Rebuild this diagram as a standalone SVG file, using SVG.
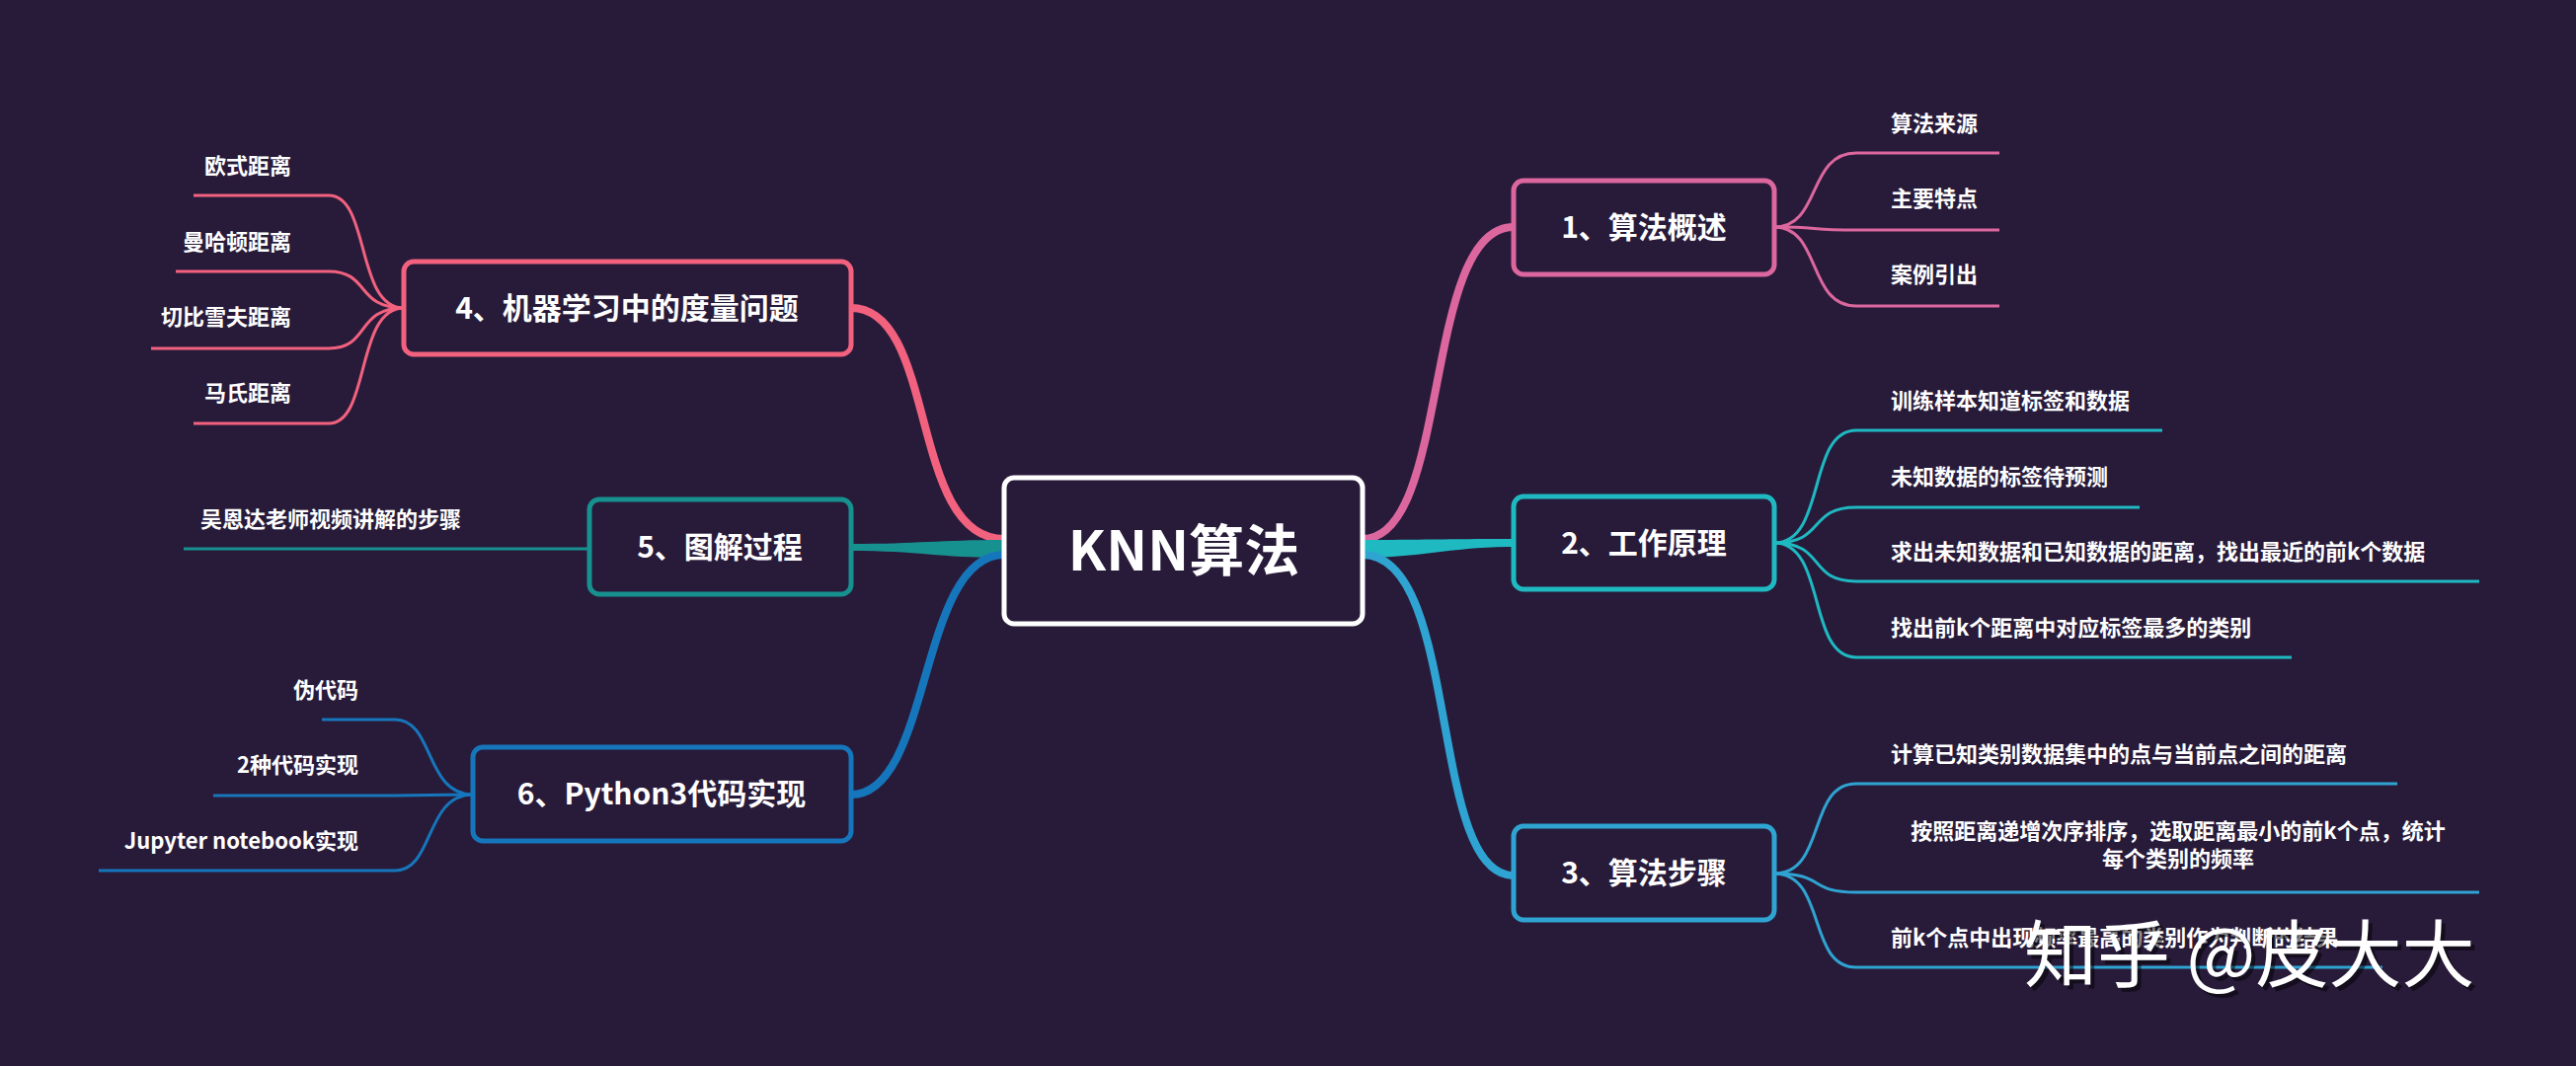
<svg xmlns="http://www.w3.org/2000/svg" width="2609" height="1080" viewBox="0 0 2609 1080">
<style>
.bg{fill:#281b3a}
.box{fill:#281b3a;stroke-width:5}
.nt{font-family:"Noto Sans CJK SC","Liberation Sans",sans-serif;font-weight:bold;font-size:30px;fill:#fff;text-anchor:middle}
.ct{font-family:"Noto Sans CJK SC","Liberation Sans",sans-serif;font-weight:bold;font-size:56px;fill:#fff;text-anchor:middle}
.lt{font-family:"Noto Sans CJK SC","Liberation Sans",sans-serif;font-weight:bold;font-size:22px;fill:#fff}
.r{text-anchor:end}
.m{text-anchor:middle}
.ln{fill:none;stroke-width:3}
.mn{fill:none;stroke-width:8;stroke-linecap:round}
.c1{stroke:#dc679e}.f1{fill:#dc679e}
.c2{stroke:#1fb9c2}.f2{fill:#1fb9c2}
.c3{stroke:#2fa4d2}.f3{fill:#2fa4d2}
.c4{stroke:#f2627f}.f4{fill:#f2627f}
.c5{stroke:#17918f}.f5{fill:#17918f}
.c6{stroke:#1676bc}.f6{fill:#1676bc}
.wm{font-family:"Noto Sans CJK SC",sans-serif;font-size:74px;fill:#fff}
</style>
<rect class="bg" x="0" y="0" width="2609" height="1080"/>
<g id="connectors">
<path class="mn c1" d="M1380,546 C1470,546 1440,230 1533,230"/>
<path class="f2" d="M1380,547 C1440,547 1470,546 1533,546 L1533,554 C1470,554 1440,565 1380,565 Z"/>
<path class="mn c3" d="M1380,562 C1480,562 1446,887 1533,887"/>
<path class="mn c4" d="M1017,546 C920,546 950,312 862,312"/>
<path class="f5" d="M1017,547 C950,547 930,551 862,551 L862,558 C930,558 950,565 1017,565 Z"/>
<path class="mn c6" d="M1017,562 C930,562 944,805 862,805"/>
<path class="ln c1" d="M1797,230 C1845,230 1830,155 1880,155 H2025"/>
<path class="ln c1" d="M1797,230 C1845,230 1830,233 1880,233 H2025"/>
<path class="ln c1" d="M1797,230 C1845,230 1830,310 1880,310 H2025"/>
<path class="ln c2" d="M1797,550 C1850,550 1830,436 1880,436 H2190"/>
<path class="ln c2" d="M1797,550 C1850,550 1830,514 1880,514 H2167"/>
<path class="ln c2" d="M1797,550 C1850,550 1830,589 1880,589 H2511"/>
<path class="ln c2" d="M1797,550 C1850,550 1830,666 1880,666 H2321"/>
<path class="ln c3" d="M1797,885 C1850,885 1830,794 1880,794 H2428"/>
<path class="ln c3" d="M1797,885 C1850,885 1830,904 1880,904 H2511"/>
<path class="ln c3" d="M1797,885 C1850,885 1830,980 1880,980 H2413"/>
<path class="ln c4" d="M409,312 C360,312 375,198 333,198 H196"/>
<path class="ln c4" d="M409,312 C360,312 375,275 333,275 H178"/>
<path class="ln c4" d="M409,312 C360,312 375,353 333,353 H153"/>
<path class="ln c4" d="M409,312 C360,312 375,429 333,429 H196"/>
<path class="ln c5" d="M597,556 H186"/>
<path class="ln c6" d="M479,805 C430,805 440,729 400,729 H326"/>
<path class="ln c6" d="M479,805 C430,805 440,806 400,806 H216"/>
<path class="ln c6" d="M479,805 C430,805 440,882 400,882 H100"/>
</g>
<g id="center"><rect class="box" x="1017" y="484" width="363" height="148" rx="10" stroke="#fff"/><text class="ct" x="1199" y="578">KNN算法</text></g>
<g id="n1"><rect class="box c1" x="1533" y="183" width="264" height="95" rx="10"/><text class="nt" x="1665" y="241">1、算法概述</text></g>
<g id="n2"><rect class="box c2" x="1533" y="503" width="264" height="94" rx="10"/><text class="nt" x="1665" y="561">2、工作原理</text></g>
<g id="n3"><rect class="box c3" x="1533" y="837" width="264" height="95" rx="10"/><text class="nt" x="1665" y="895">3、算法步骤</text></g>
<g id="n4"><rect class="box c4" x="409" y="265" width="453" height="94" rx="10"/><text class="nt" x="635" y="323">4、机器学习中的度量问题</text></g>
<g id="n5"><rect class="box c5" x="597" y="506" width="265" height="96" rx="10"/><text class="nt" x="729" y="565">5、图解过程</text></g>
<g id="n6"><rect class="box c6" x="479" y="757" width="383" height="95" rx="10"/><text class="nt" x="670" y="815">6、Python3代码实现</text></g>
<g id="leaves1"><text class="lt" x="1915" y="133">算法来源</text><text class="lt" x="1915" y="209">主要特点</text><text class="lt" x="1915" y="286">案例引出</text></g>
<g id="leaves2"><text class="lt" x="1915" y="414">训练样本知道标签和数据</text><text class="lt" x="1915" y="491">未知数据的标签待预测</text><text class="lt" x="1915" y="567">求出未知数据和已知数据的距离，找出最近的前k个数据</text><text class="lt" x="1915" y="644">找出前k个距离中对应标签最多的类别</text></g>
<g id="leaves3"><text class="lt" x="1915" y="772">计算已知类别数据集中的点与当前点之间的距离</text><text class="lt m" x="2206" y="850">按照距离递增次序排序，选取距离最小的前k个点，统计</text><text class="lt m" x="2206" y="878">每个类别的频率</text><text class="lt" x="1915" y="958">前k个点中出现频率最高的类别作为判断的结果</text></g>
<g id="leaves4"><text class="lt r" x="295" y="176">欧式距离</text><text class="lt r" x="295" y="253">曼哈顿距离</text><text class="lt r" x="295" y="329">切比雪夫距离</text><text class="lt r" x="295" y="406">马氏距离</text></g>
<g id="leaves5"><text class="lt" x="203" y="534">吴恩达老师视频讲解的步骤</text></g>
<g id="leaves6"><text class="lt r" x="363" y="707">伪代码</text><text class="lt r" x="363" y="783">2种代码实现</text><text class="lt r" x="363" y="860">Jupyter  notebook实现</text></g>
<text class="wm" x="2054" y="998" opacity="0.5" style="fill:#000">知乎 @皮大大</text>
<text class="wm" x="2050" y="994">知乎 @皮大大</text>
</svg>
